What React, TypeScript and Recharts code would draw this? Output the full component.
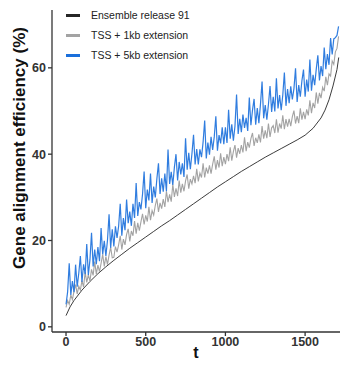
import { LineChart, Line, XAxis, YAxis, Legend } from "recharts";

// series names and colours
const SERIES_NAMES = ["Ensemble release 91", "TSS + 1kb extension", "TSS + 5kb extension"];
const SERIES_COLORS = ["#262626", "#a3a3a3", "#1a6fdb"];

const X_TICKS = [0, 500, 1000, 1500];
const Y_TICKS = [0, 20, 40, 60];

// Ensemble release 91 (smooth curve), read at these t values
const BLACK_T = [
  0, 25, 50, 100, 150, 200, 250, 300, 350, 400, 450, 500, 550, 600, 650, 700, 750, 800, 850,
  900, 950, 1000, 1050, 1100, 1150, 1200, 1250, 1300, 1350, 1400, 1450, 1500, 1550, 1600,
  1625, 1650, 1675, 1700, 1711,
];
const BLACK_VALUES = [
  2.6, 4.6, 6.1, 8.5, 10.5, 12.3, 13.9, 15.4, 16.8, 18.2, 19.5, 20.8, 22.1, 23.4, 24.6, 25.9,
  27.2, 28.5, 29.8, 31.1, 32.4, 33.6, 34.8, 36.0, 37.1, 38.2, 39.3, 40.3, 41.3, 42.3, 43.3,
  44.4, 46.0, 48.4, 50.2, 52.6, 55.8, 59.6, 62.4,
];

// sampled every 10 steps of t, starting at t = 0
const STEP = 10;

const GRAY_VALUES = [
  4.5, 6.1, 5.2, 7.4, 6.3, 8.2, 9.8, 7.6, 9.4, 8.5,
  10.7, 9.2, 12.7, 10.3, 12.1, 10.6, 13.3, 11.9, 15.1, 12.2,
  14.3, 12.8, 14.7, 16.8, 14.0, 16.3, 14.4, 16.6, 18.4, 16.0,
  16.1, 18.6, 17.3, 19.0, 21.1, 17.9, 20.3, 19.0, 21.4, 22.7,
  19.8, 22.2, 21.1, 24.5, 21.6, 24.1, 22.3, 24.3, 26.2, 23.7,
  25.8, 24.4, 27.8, 24.7, 26.9, 25.9, 28.1, 29.7, 26.6, 28.7,
  27.4, 29.6, 27.8, 31.4, 28.9, 30.7, 29.0, 33.0, 30.1, 32.1,
  30.3, 33.9, 31.1, 33.1, 31.4, 33.8, 35.3, 32.0, 34.2, 33.1,
  35.0, 33.3, 36.6, 33.7, 35.6, 34.6, 37.9, 34.6, 36.9, 35.5,
  37.4, 35.5, 37.7, 39.5, 36.4, 38.6, 36.9, 40.2, 37.2, 39.3,
  37.7, 40.0, 38.4, 41.6, 38.5, 40.6, 42.1, 39.2, 41.4, 40.1,
  42.1, 40.4, 43.9, 40.7, 42.8, 41.5, 43.6, 44.9, 41.9, 43.8,
  42.6, 44.6, 42.7, 46.5, 43.6, 45.5, 43.7, 47.1, 44.0, 46.1,
  46.6, 44.9, 48.1, 45.0, 47.1, 45.9, 49.0, 45.8, 48.1, 46.4,
  48.2, 46.5, 48.7, 50.1, 47.1, 48.8, 47.2, 50.6, 48.0, 49.8,
  48.1, 50.4, 49.0, 52.5, 49.5, 51.9, 50.7, 54.3, 51.7, 54.2,
  53.0, 55.5, 54.6, 57.9, 56.0, 58.6, 58.1, 61.6, 60.8, 63.7,
  64.5, 67.3,
];

const BLUE_VALUES = [
  5.2, 8.1, 14.7, 7.4, 10.6, 8.0, 14.4, 9.3, 12.4, 16.4,
  10.4, 14.5, 12.2, 19.2, 12.0, 15.5, 21.8, 14.0, 17.9, 14.5,
  18.5, 15.2, 22.9, 16.8, 19.9, 16.4, 20.0, 26.1, 18.3, 22.6,
  18.6, 23.3, 20.6, 23.3, 28.5, 21.1, 25.2, 22.4, 29.5, 24.0,
  26.7, 23.4, 28.5, 25.2, 33.3, 25.7, 28.9, 27.2, 30.7, 36.0,
  27.5, 31.8, 29.3, 35.5, 28.7, 32.5, 30.0, 34.3, 37.9, 30.8,
  34.4, 31.3, 35.5, 31.4, 41.1, 33.1, 35.9, 32.9, 37.0, 40.0,
  33.9, 38.2, 35.3, 37.9, 34.7, 43.7, 36.4, 40.3, 36.5, 40.1,
  44.5, 37.6, 41.2, 37.6, 41.1, 39.3, 42.8, 47.8, 39.0, 42.7,
  39.9, 44.0, 41.0, 44.0, 48.8, 40.8, 44.4, 42.5, 46.2, 42.3,
  46.2, 42.6, 50.3, 43.6, 46.9, 43.1, 46.5, 53.8, 44.7, 48.2,
  45.1, 49.2, 46.1, 48.4, 45.4, 53.1, 46.7, 50.2, 52.8, 46.8,
  50.7, 47.2, 51.6, 56.8, 48.3, 51.4, 48.0, 51.5, 55.8, 49.8,
  53.3, 49.9, 57.6, 50.6, 53.7, 50.2, 53.7, 58.9, 51.2, 55.1,
  51.8, 55.7, 52.7, 55.2, 59.9, 52.1, 56.0, 53.3, 57.0, 59.6,
  53.3, 57.3, 54.5, 61.9, 54.7, 58.4, 56.0, 59.7, 62.9, 57.1,
  60.4, 58.1, 64.7, 59.7, 63.2, 60.7, 66.9, 63.1, 66.7, 67.0,
  67.5, 69.6,
];

const blackData = BLACK_T.map((t, i) => ({ t, v: BLACK_VALUES[i] }));
const grayData = GRAY_VALUES.map((v, i) => ({ t: i * STEP, v }));
const blueData = BLUE_VALUES.map((v, i) => ({ t: i * STEP, v }));

const FONT = "'Liberation Sans', Arial, sans-serif";
const AXIS_COLOR = "#333333";

function LegendBox() {
  return (
    <div style={{ fontFamily: FONT, fontSize: 10.5, color: "#222" }}>
      {SERIES_NAMES.map((name, i) => (
        <div key={name} style={{ display: "flex", alignItems: "center", height: 20 }}>
          <span
            style={{
              display: "inline-block",
              width: 14,
              height: 3,
              background: SERIES_COLORS[i],
              marginRight: 11,
            }}
          />
          {name}
        </div>
      ))}
    </div>
  );
}

export default function App() {
  const tickStyle = { fontSize: 12.5, fontWeight: 700, fill: AXIS_COLOR, fontFamily: FONT };
  return (
    <div style={{ width: 340, height: 365, background: "#fff" }}>
      <style>{"body{margin:0}"}</style>
      <LineChart width={340} height={365} margin={{ top: 10, right: 0, bottom: 0, left: 0 }}>
        <XAxis
          type="number"
          dataKey="t"
          domain={[-88, 1719]}
          ticks={X_TICKS}
          allowDataOverflow
          height={33}
          tick={tickStyle}
          tickSize={4}
          tickMargin={1}
          axisLine={{ stroke: AXIS_COLOR, strokeWidth: 1.3 }}
          tickLine={{ stroke: AXIS_COLOR, strokeWidth: 1.3 }}
          label={{
            content: () => (
              <text
                x={196}
                y={352}
                textAnchor="middle"
                dominantBaseline="central"
                style={{ fontFamily: FONT, fontSize: 16, fontWeight: 700, fill: "#111" }}
              >
                t
              </text>
            ),
          }}
        />
        <YAxis
          type="number"
          domain={[-1.2, 73.4]}
          ticks={Y_TICKS}
          allowDataOverflow
          width={52}
          tick={tickStyle}
          tickSize={4}
          tickMargin={2}
          axisLine={{ stroke: AXIS_COLOR, strokeWidth: 1.3 }}
          tickLine={{ stroke: AXIS_COLOR, strokeWidth: 1.3 }}
          label={{
            content: () => (
              <text
                x={19}
                y={148}
                transform="rotate(-90 19 148)"
                textAnchor="middle"
                dominantBaseline="central"
                style={{ fontFamily: FONT, fontSize: 17, fontWeight: 700, fill: "#111" }}
              >
                Gene alignment efficiency (%)
              </text>
            ),
          }}
        />
        <Legend
          layout="horizontal"
          verticalAlign="middle"
          align="center"
          wrapperStyle={{ left: 66, top: 5, width: "auto" }}
          content={() => <LegendBox />}
        />
        <Line
          data={blackData}
          dataKey="v"
          name={SERIES_NAMES[0]}
          type="linear"
          stroke={SERIES_COLORS[0]}
          strokeWidth={0.9}
          dot={false}
          isAnimationActive={false}
        />
        <Line
          data={grayData}
          dataKey="v"
          name={SERIES_NAMES[1]}
          type="linear"
          stroke={SERIES_COLORS[1]}
          strokeWidth={1.1}
          dot={false}
          isAnimationActive={false}
        />
        <Line
          data={blueData}
          dataKey="v"
          name={SERIES_NAMES[2]}
          type="linear"
          stroke={SERIES_COLORS[2]}
          strokeWidth={1.2}
          strokeOpacity={0.9}
          dot={false}
          isAnimationActive={false}
        />
      </LineChart>
    </div>
  );
}
